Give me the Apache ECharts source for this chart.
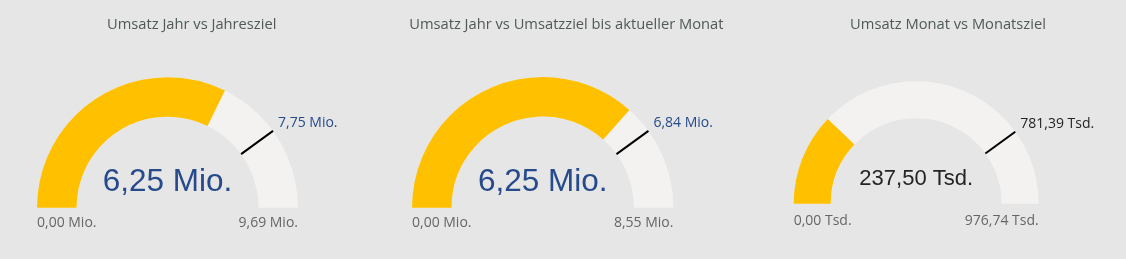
<!DOCTYPE html>
<html>
<head>
<meta charset="utf-8">
<script src="https://cdn.jsdelivr.net/npm/echarts@6/dist/echarts.min.js"></script>
<style>
  html, body { margin: 0; padding: 0; background: #e6e6e6; }
  #chart { width: 1126px; height: 259px; }
</style>
</head>
<body>
<div id="chart"></div>
<script>
// ---- data ----
const titles = ['Umsatz Jahr vs Jahresziel', 'Umsatz Jahr vs Umsatzziel bis aktueller Monat', 'Umsatz Monat vs Monatsziel'];
const actualValues = [6.25, 6.25, 237.50];
const targetValues = [7.75, 6.84, 781.39];
const minValues = [0, 0, 0];
const maxValues = [9.69, 8.55, 976.74];
const units = ['Mio.', 'Mio.', 'Tsd.'];

// ---- layout / style ----
const layout = [
  { cx: 167.5, cy: 207.7, r: 130.5, band: 39.5, titleX: 191.7, bigSize: 31.5, bigY: -25, bigColor: '#264a8c', tgtColor: '#264a8c', labelShift: 15.5 },
  { cx: 542.7, cy: 207.7, r: 130.7, band: 39.5, titleX: 566.3, bigSize: 31.5, bigY: -25, bigColor: '#264a8c', tgtColor: '#264a8c', labelShift: 15.5 },
  { cx: 916.2, cy: 203.7, r: 122.5, band: 37,   titleX: 948,   bigSize: 22,   bigY: -25, bigColor: '#252423', tgtColor: '#252423', labelShift: 17 }
];
const SMALL_FONT = '"Open Sans", sans-serif';
const BIG_FONT = '"Liberation Sans", Arial, sans-serif';
const YELLOW = '#ffc000';
const TRACK = '#f3f2f1';

function fmt(v, unit) {
  return v.toFixed(2).replace('.', ',') + ' ' + unit;
}

const series = [];
const graphics = [];
titles.forEach((t, i) => {
  const L = layout[i];
  // main gauge: track + progress + min/max labels + big value
  series.push({
    type: 'gauge',
    center: [L.cx, L.cy],
    radius: L.r,
    startAngle: 180,
    endAngle: 0,
    min: minValues[i],
    max: maxValues[i],
    splitNumber: 1,
    pointer: { show: false },
    anchor: { show: false },
    progress: { show: true, width: L.band, roundCap: false, itemStyle: { color: YELLOW } },
    axisLine: { roundCap: false, lineStyle: { width: L.band, color: [[1, TRACK]] } },
    axisTick: { show: false },
    splitLine: { show: false, length: 0, distance: 0 },
    axisLabel: {
      show: true,
      distance: 0,
      color: '#666666',
      fontSize: 14,
      lineHeight: L.labelShift * 2,
      fontFamily: SMALL_FONT,
      formatter: v => '\n' + fmt(v, units[i])
    },
    title: { show: false },
    detail: {
      show: true,
      offsetCenter: [0, L.bigY],
      fontSize: L.bigSize,
      fontWeight: 'normal',
      fontFamily: BIG_FONT,
      color: L.bigColor,
      formatter: v => fmt(v, units[i])
    },
    silent: true,
    animation: false,
    data: [{ value: actualValues[i] }]
  });
  // target marker gauge
  series.push({
    type: 'gauge',
    center: [L.cx, L.cy],
    radius: L.r,
    startAngle: 180,
    endAngle: 0,
    min: minValues[i],
    max: maxValues[i],
    axisLine: { show: false },
    axisTick: { show: false },
    splitLine: { show: false },
    axisLabel: { show: false },
    progress: { show: false },
    anchor: { show: false },
    title: { show: false },
    detail: { show: false },
    pointer: {
      show: true,
      icon: 'rect',
      width: 2,
      length: L.band,
      offsetCenter: [0, -(L.r - L.band)],
      itemStyle: { color: '#000000' }
    },
    silent: true,
    animation: false,
    data: [{ value: targetValues[i] }]
  });
  // title
  graphics.push({
    type: 'text',
    x: L.titleX,
    y: 25,
    silent: true,
    style: {
      text: t,
      fill: '#505858',
      fontSize: 14.7,
      fontFamily: SMALL_FONT,
      align: 'center',
      verticalAlign: 'middle'
    }
  });
  // target label, positioned at the target's angle on the outer edge
  const frac = (targetValues[i] - minValues[i]) / (maxValues[i] - minValues[i]);
  const ang = Math.PI * (1 - frac);
  graphics.push({
    type: 'text',
    x: L.cx + L.r * Math.cos(ang) + 5,
    y: L.cy - L.r * Math.sin(ang) - 8,
    silent: true,
    style: {
      text: fmt(targetValues[i], units[i]),
      fill: L.tgtColor,
      fontSize: 14,
      fontFamily: SMALL_FONT,
      align: 'left',
      verticalAlign: 'middle'
    }
  });
});

const chart = echarts.init(document.getElementById('chart'), null, { renderer: 'canvas' });
chart.setOption({
  backgroundColor: '#e6e6e6',
  animation: false,
  series: series,
  graphic: graphics
});
</script>
</body>
</html>
